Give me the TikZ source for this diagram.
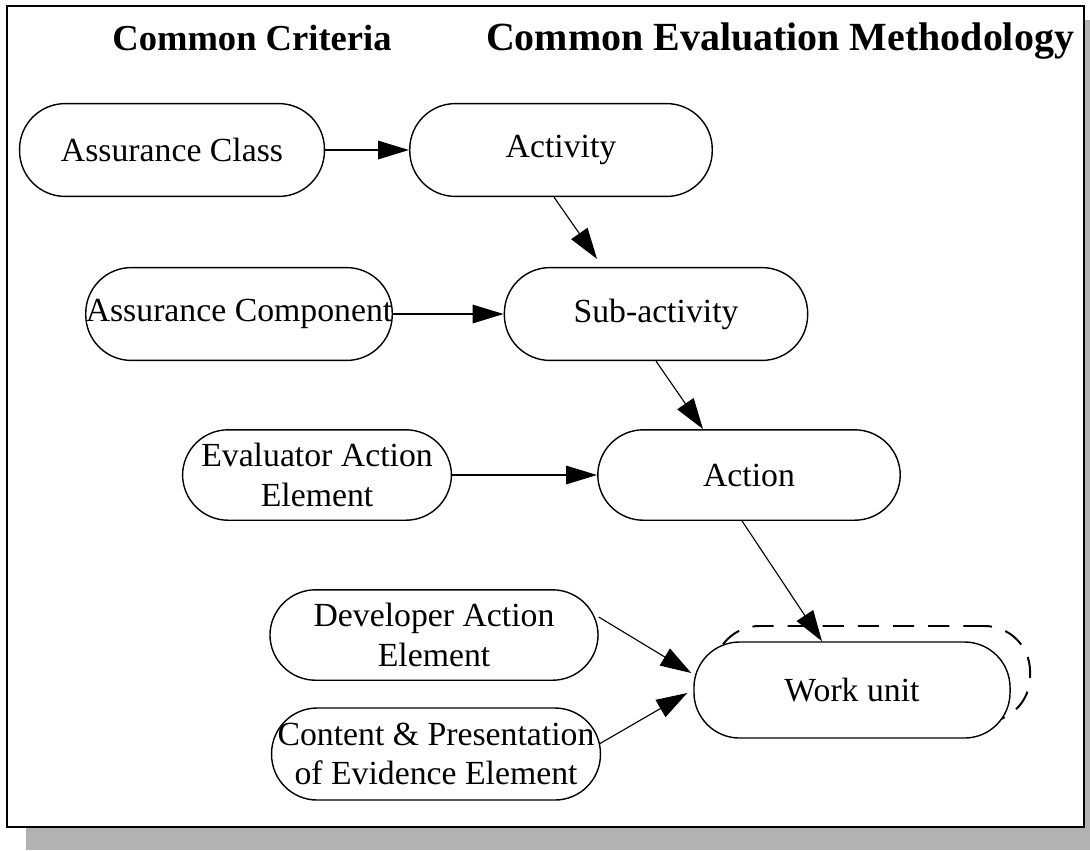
\documentclass[tikz,border=0pt]{standalone}
\usepackage{fontspec}
\setmainfont{Liberation Serif}
\usetikzlibrary{arrows.meta,calc}

\begin{document}
\begin{tikzpicture}[x=0.0125cm,y=-0.0125cm,
  main node/.style={draw,line width=0.5pt,rounded corners=0.57cm,fill=white,
    minimum height=1.16cm,inner sep=0pt,align=center,
    font=\fontsize{12}{14}\selectfont},
  title/.style={anchor=base,font=\fontsize{13}{15}\selectfont\bfseries},
  thick arrow/.style={line width=0.75pt,-{Triangle[length=11pt,width=6.5pt]}},
  thin arrow/.style={line width=0.4pt,-{Triangle[length=11pt,width=7pt]}}]

  \useasboundingbox (0,0) rectangle (1090,850);
  % frame with shadow
  \fill[black!30] (26,20) rectangle (1090,850);
  \draw[line width=0.8pt,fill=white] (7,6) rectangle (1084,827);

  \node[title] (cc) at (252,50) {Common Criteria};
  \node[title,font=\fontsize{14.2}{16}\selectfont\bfseries] (cem) at (780,50) {Common Evaluation Methodology};

  \node[main node,minimum width=3.81cm] (class) at (172,150) {Assurance Class};
  \node[main node,minimum width=3.78cm] (activity) at (561,150) {Activity};
  \node[main node,minimum width=3.78cm] (component) at (239,314) {Assurance Component};
  \node[main node,minimum width=3.79cm] (sub) at (656,314) {Sub-activity};
  \node[main node,minimum width=3.36cm,minimum height=1.13cm] (eval) at (317,475) {Evaluator Action\\Element};
  \node[main node,minimum width=3.78cm,minimum height=1.13cm] (action) at (749,475) {Action};
  \node[main node,minimum width=4.1cm,minimum height=1.13cm] (dev) at (434,635) {Developer Action\\Element};
  \node[main node,minimum width=3.95cm,minimum height=1.2cm,line width=0.7pt,dash pattern=on 7.5pt off 5pt] (workdash) at (872,674) {};
  \node[main node,minimum width=3.95cm,minimum height=1.2cm] (work) at (852,690) {Work unit};
  \node[main node,minimum width=4.11cm,minimum height=1.15cm] (content) at (436,754) {Content \& Presentation\\of Evidence Element};

  \path[thick arrow]
   (class.east) edge (activity.west)
   (component.east) edge (sub.west)
   (eval.east) edge (action.west);

  \path[thin arrow]
   ($(activity.south)+(-7,0)$) edge ($(sub.north)+(-59,-8)$)
   (sub.south) edge ($(action.north)+(-46,0)$)
   ($(action.south)+(-7,0)$) edge ($(work.north)+(-30,0)$)
   ($(dev.east)+(0,-18)$) edge ($(work.west)+(-2,-17)$)
   ($(content.east)+(-2,-10)$) edge ($(work.west)+(-6,3)$);
\end{tikzpicture}
\end{document}
